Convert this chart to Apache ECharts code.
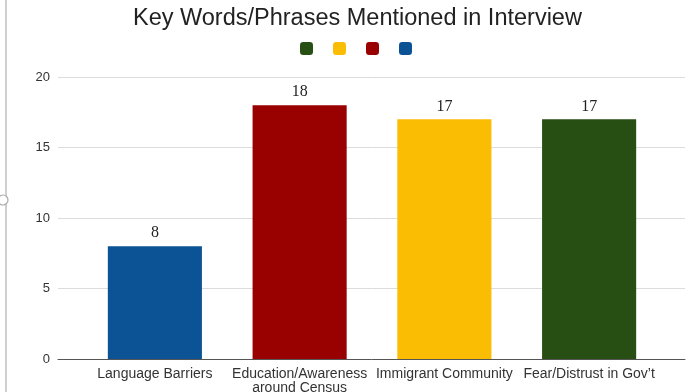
<!DOCTYPE html>
<html><head><meta charset="utf-8">
<script src="https://cdn.jsdelivr.net/npm/echarts@6/dist/echarts.min.js"></script>
<style>html,body{margin:0;padding:0;background:#fff}#c{width:698px;height:392px}</style>
</head><body><div id="c"></div>
<script>
var categories = ['Language Barriers', 'Education/Awareness\naround Census', 'Immigrant Community', 'Fear/Distrust in Gov\u2019t'];
var values = [8, 18, 17, 17];
var colors = ['#0b5394', '#990000', '#fbbc04', '#274e13'];
var seriesNames = ['Language Barriers', 'Education/Awareness around Census', 'Immigrant Community', 'Fear/Distrust in Gov\u2019t'];
var legendOrder = [3, 2, 1, 0];
var yTicks = [0, 5, 10, 15, 20];

var series = categories.map(function (c, i) {
  return {
    name: seriesNames[i], type: 'bar', xAxisIndex: 1, yAxisIndex: 1,
    barWidth: '65%', barGap: '-100%',
    itemStyle: { color: colors[i] },
    label: { show: true, position: 'top', distance: 5, fontFamily: 'Liberation Serif', fontSize: 16, color: '#222' },
    data: categories.map(function (cc, j) { return j === i ? values[i] : null; })
  };
});

var chart = echarts.init(document.getElementById('c'));
chart.setOption({
  animation: false,
  title: { text: 'Key Words/Phrases Mentioned in Interview', left: 128, top: 2, padding: 5,
    textStyle: { fontFamily: 'Liberation Sans', fontSize: 23.5, fontWeight: 'normal', color: '#222' } },
  legend: { top: 37, left: 295, itemWidth: 13, itemHeight: 13, itemGap: 20,
    icon: 'roundRect', formatter: function () { return ''; },
    data: legendOrder.map(function (i) { return seriesNames[i]; }) },
  grid: [
    { left: 58, right: 13, top: 77, bottom: 33, outerBoundsMode: 'none', containLabel: false },
    { left: 82.5, width: 579, top: 77, bottom: 33, outerBoundsMode: 'none', containLabel: false }
  ],
  xAxis: [
    { gridIndex: 0, type: 'category', data: [''], axisTick: { show: false }, axisLabel: { show: false },
      axisLine: { lineStyle: { color: '#555', width: 1 } } },
    { gridIndex: 1, type: 'category', data: categories, axisTick: { show: false }, axisLine: { show: false },
      axisLabel: { interval: 0, margin: 8, fontFamily: 'Liberation Sans', fontSize: 14, color: '#333', lineHeight: 14 } }
  ],
  yAxis: [
    { gridIndex: 0, type: 'value', min: 0, max: 20, interval: 5,
      axisLabel: { margin: 8, fontFamily: 'Liberation Sans', fontSize: 13, color: '#333' },
      splitLine: { lineStyle: { color: '#dcdcdc' } }, axisLine: { show: false }, axisTick: { show: false } },
    { gridIndex: 1, type: 'value', min: 0, max: 20, interval: 5, show: false }
  ],
  graphic: [
    { type: 'rect', shape: { x: 5, y: 0, width: 2, height: 392 }, style: { fill: '#cfcfcf' } },
    { type: 'circle', shape: { cx: 3, cy: 200, r: 5 }, style: { fill: '#fff', stroke: '#aaa', lineWidth: 1.2 } }
  ],
  series: series
});
</script></body></html>
